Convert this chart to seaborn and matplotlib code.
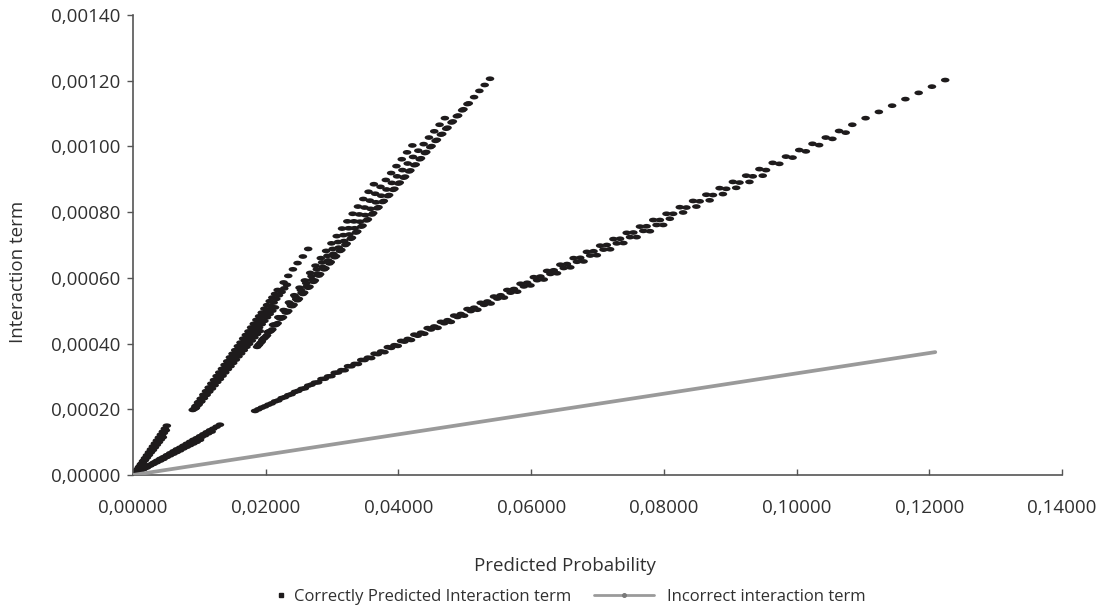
import numpy as np
import pandas as pd
import matplotlib
matplotlib.use("Agg")
import matplotlib.pyplot as plt
import seaborn as sns
from matplotlib.path import Path
import matplotlib.transforms as mtrans
from matplotlib.lines import Line2D
from matplotlib.ticker import FuncFormatter

# ---------------- data (x in 1e-3 units, y in 1e-5 units) ----------------
origin_x = [0.0]
origin_y = [0.0]

a1_x = [0.3, 0.6, 0.9, 1.2, 1.5, 1.8, 2.1, 2.4, 2.7, 3.0, 3.3, 3.6, 3.9, 4.2, 4.5, 4.8, 5.1]
a1_y = [0.6, 1.5, 2.4, 3.3, 4.2, 5.1, 6.0, 6.9, 7.8, 8.7, 9.6, 10.5, 11.4, 12.3, 13.2, 14.1, 15.0]
a2_x = [0.45, 0.75, 1.05, 1.35, 1.65, 1.95, 2.25, 2.55, 2.85, 3.15, 3.45, 3.75, 4.05, 4.35, 4.65, 4.95]
a2_y = [1.0, 1.8, 2.7, 3.5, 4.4, 5.2, 6.0, 6.9, 7.7, 8.6, 9.4, 10.2, 11.1, 11.9, 12.8, 13.6]
a3_x = [0.6, 0.9, 1.2, 1.5, 1.8, 2.1, 2.4, 2.7, 3.0, 3.3, 3.6, 3.9, 4.2, 4.5]
a3_y = [1.4, 2.2, 3.0, 3.7, 4.5, 5.3, 6.1, 6.9, 7.6, 8.4, 9.2, 10.0, 10.8, 11.5]

b1_x = [0.6, 1.1, 1.6, 2.1, 2.6, 3.1, 3.6, 4.1, 4.6, 5.1, 5.6, 6.1, 6.6, 7.1, 7.6, 8.1,
        8.6, 9.1, 9.6, 10.1, 10.6, 11.1, 11.6, 12.1, 12.6, 13.1]
b1_y = [0.8, 1.4, 2.0, 2.5, 3.1, 3.7, 4.3, 4.9, 5.4, 6.0, 6.6, 7.2, 7.8, 8.3, 8.9, 9.5,
        10.1, 10.7, 11.2, 11.8, 12.4, 13.0, 13.6, 14.1, 14.7, 15.3]
b2_x = [0.85, 1.35, 1.85, 2.35, 2.85, 3.35, 3.85, 4.35, 4.85, 5.35, 5.85, 6.35, 6.85, 7.35,
        7.85, 8.35, 8.85, 9.35, 9.85, 10.35, 10.85, 11.35, 11.85]
b2_y = [1.1, 1.7, 2.2, 2.8, 3.3, 3.9, 4.4, 5.0, 5.5, 6.1, 6.6, 7.2, 7.7, 8.3, 8.8, 9.4,
        9.9, 10.5, 11.0, 11.6, 12.1, 12.7, 13.2]
b3_x = [1.1, 1.6, 2.1, 2.6, 3.1, 3.6, 4.1, 4.6, 5.1, 5.6, 6.1, 6.6, 7.1, 7.6, 8.1, 8.6,
        9.1, 9.6, 10.1]
b3_y = [1.3, 1.8, 2.3, 2.9, 3.4, 3.9, 4.4, 4.9, 5.5, 6.0, 6.5, 7.0, 7.5, 8.1, 8.6, 9.1,
        9.6, 10.1, 10.7]

c1_x = [9.0, 9.4, 9.8, 10.2, 10.6, 11.0, 11.4, 11.8, 12.2, 12.6, 13.0, 13.4, 13.8, 14.2,
        14.6, 15.0, 15.4, 15.8, 16.2, 16.6, 17.0, 17.4, 17.8, 18.2, 18.6, 19.0, 19.4, 19.8,
        20.2, 20.6, 21.0, 21.4, 21.8, 22.7, 23.4, 24.1, 24.8, 25.6, 26.4]
c1_y = [19.8, 20.9, 22.1, 23.2, 24.4, 25.5, 26.6, 27.8, 28.9, 30.1, 31.2, 32.3, 33.5, 34.6,
        35.8, 36.9, 38.0, 39.2, 40.3, 41.5, 42.6, 43.7, 44.9, 46.0, 47.2, 48.3, 49.4, 50.6,
        51.7, 52.9, 54.0, 55.1, 56.3, 58.6, 60.6, 62.6, 64.5, 66.5, 68.8]
c2_x = [9.2, 9.6, 10.0, 10.4, 10.8, 11.2, 11.6, 12.0, 12.4, 12.8, 13.2, 13.6, 14.0, 14.4,
        14.8, 15.2, 15.6, 16.0, 16.4, 16.8, 17.2, 17.6, 18.0, 18.4, 18.8, 19.2, 19.6, 20.0,
        20.4, 20.8, 21.2, 21.6, 22.0, 22.4, 22.8, 23.2]
c2_y = [20.1, 21.2, 22.3, 23.3, 24.4, 25.5, 26.6, 27.7, 28.7, 29.8, 30.9, 32.0, 33.1, 34.1,
        35.2, 36.3, 37.4, 38.5, 39.5, 40.6, 41.7, 42.8, 43.9, 44.9, 46.0, 47.1, 48.2, 49.3,
        50.3, 51.4, 52.5, 53.6, 54.7, 55.7, 56.8, 57.9]
c3_x = [9.4, 9.8, 10.2, 10.6, 11.0, 11.4, 11.8, 12.2, 12.6, 13.0, 13.4, 13.8, 14.2, 14.6,
        15.0, 15.4, 15.8, 16.2, 16.6, 17.0, 17.4, 17.8, 18.2, 18.6, 19.0, 19.4, 19.8, 20.2,
        20.6, 21.0, 21.4]
c3_y = [20.3, 21.3, 22.3, 23.4, 24.4, 25.4, 26.4, 27.5, 28.5, 29.5, 30.5, 31.6, 32.6, 33.6,
        34.6, 35.7, 36.7, 37.7, 38.7, 39.8, 40.8, 41.8, 42.8, 43.9, 44.9, 45.9, 46.9, 48.0,
        49.0, 50.0, 51.0]
c4_x = [9.5, 9.9, 10.3, 10.7, 11.1, 11.5, 11.9, 12.3, 12.7, 13.1, 13.5, 13.9, 14.3, 14.7,
        15.1, 15.5, 15.9, 16.3, 16.7, 17.1, 17.5, 17.9, 18.3, 18.7, 19.1]
c4_y = [20.5, 21.5, 22.4, 23.4, 24.4, 25.4, 26.3, 27.3, 28.3, 29.2, 30.2, 31.2, 32.2, 33.1,
        34.1, 35.1, 36.1, 37.0, 38.0, 39.0, 39.9, 40.9, 41.9, 42.9, 43.8]

d1_x = [18.7, 19.5, 20.3, 21.1, 21.9, 22.7, 23.5, 24.3, 25.1, 25.9, 26.7, 27.5, 28.3, 29.1,
        29.9, 30.7, 31.5, 32.3, 33.1, 33.9, 34.7, 35.5, 36.3]
d1_y = [39.0, 41.2, 43.5, 45.7, 48.0, 50.2, 52.5, 54.7, 57.0, 59.2, 61.5, 63.7, 66.0, 68.2,
        70.5, 72.7, 75.0, 77.2, 79.5, 81.7, 84.0, 86.2, 88.5]
d2_x = [18.9, 19.7, 20.5, 21.3, 22.1, 22.9, 23.7, 24.5, 25.3, 26.1, 26.9, 27.7, 28.5, 29.3,
        30.1, 30.9, 31.7, 32.5, 33.3, 34.1, 34.9, 35.7, 36.5, 37.3, 38.1, 38.9, 39.7, 40.5,
        41.3, 42.1]
d2_y = [39.5, 41.6, 43.7, 45.8, 47.9, 50.0, 52.1, 54.2, 56.3, 58.4, 60.5, 62.6, 64.7, 66.7,
        68.8, 70.9, 73.0, 75.1, 77.2, 79.3, 81.4, 83.5, 85.6, 87.7, 89.8, 91.9, 94.0, 96.1,
        98.2, 100.3]
d3_x = [19.0, 19.8, 20.6, 21.4, 22.2, 23.0, 23.8, 24.6, 25.4, 26.2, 27.0, 27.8, 28.6, 29.4,
        30.2, 31.0, 31.8, 32.6, 33.4, 34.2, 35.0, 35.8, 36.6, 37.4, 38.2, 39.0, 39.8, 40.6,
        41.4, 42.2, 43.0, 43.8, 44.6, 45.4, 46.2, 47.0]
d3_y = [39.7, 41.7, 43.6, 45.6, 47.6, 49.5, 51.5, 53.5, 55.4, 57.4, 59.4, 61.3, 63.3, 65.3,
        67.3, 69.2, 71.2, 73.2, 75.1, 77.1, 79.1, 81.0, 83.0, 85.0, 86.9, 88.9, 90.9, 92.8,
        94.8, 96.8, 98.7, 100.7, 102.7, 104.6, 106.6, 108.6]
d4_x = [19.2, 20.0, 20.8, 21.6, 22.4, 23.2, 24.0, 24.8, 25.6, 26.4, 27.2, 28.0, 28.8, 29.6,
        30.4, 31.2, 32.0, 32.8, 33.6, 34.4, 35.2, 36.0, 36.8, 37.6, 38.4, 39.2, 40.0, 40.8,
        41.6, 42.4, 43.2, 44.0, 44.8, 45.6, 46.4, 47.2, 48.0, 48.8, 49.6, 50.4]
d4_y = [40.2, 42.1, 43.9, 45.8, 47.7, 49.5, 51.4, 53.2, 55.1, 57.0, 58.8, 60.7, 62.6, 64.4,
        66.3, 68.2, 70.0, 71.9, 73.8, 75.6, 77.5, 79.3, 81.2, 83.1, 84.9, 86.8, 88.7, 90.5,
        92.4, 94.3, 96.1, 98.0, 99.8, 101.7, 103.6, 105.4, 107.3, 109.2, 111.0, 112.9]
d5_x = [19.4, 20.2, 21.0, 21.8, 22.6, 23.4, 24.2, 25.0, 25.8, 26.6, 27.4, 28.2, 29.0, 29.8,
        30.6, 31.4, 32.2, 33.0, 33.8, 34.6, 35.4, 36.2, 37.0, 37.8, 38.6, 39.4, 40.2, 41.0,
        41.8, 42.6, 43.4, 44.2, 45.0, 45.8, 46.6, 47.4, 48.2, 49.0, 49.8, 50.6, 51.4, 52.2,
        53.0, 53.8]
d5_y = [40.6, 42.5, 44.3, 46.2, 48.0, 49.9, 51.8, 53.6, 55.5, 57.3, 59.2, 61.1, 62.9, 64.8,
        66.6, 68.5, 70.4, 72.2, 74.1, 75.9, 77.8, 79.7, 81.5, 83.4, 85.2, 87.1, 89.0, 90.8,
        92.7, 94.5, 96.4, 98.3, 100.1, 102.0, 103.8, 105.7, 107.6, 109.4, 111.3, 113.1, 115.0,
        116.9, 118.7, 120.6]

e1_x = [18.4, 20.4, 22.4, 24.4, 26.4, 28.4, 30.4, 32.4, 34.4, 36.4, 38.4, 40.4, 42.4, 44.4,
        46.4, 48.4, 50.4, 52.4, 54.4, 56.4, 58.4, 60.4, 62.4, 64.4, 66.4, 68.4, 70.4, 72.4,
        74.4, 76.4, 78.4, 80.4, 82.4, 84.4, 86.4, 88.4, 90.4, 92.4, 94.4, 96.4, 98.4, 100.4,
        102.4, 104.4, 106.4, 108.4, 110.4, 112.4, 114.4, 116.4, 118.4, 120.4, 122.4]
e1_y = [19.5, 21.4, 23.4, 25.3, 27.2, 29.2, 31.1, 33.1, 35.0, 36.9, 38.9, 40.8, 42.7, 44.7,
        46.6, 48.5, 50.5, 52.4, 54.3, 56.3, 58.2, 60.2, 62.1, 64.0, 66.0, 67.9, 69.8, 71.8,
        73.7, 75.6, 77.6, 79.5, 81.5, 83.4, 85.3, 87.3, 89.2, 91.1, 93.1, 95.0, 96.9, 98.9,
        100.8, 102.7, 104.7, 106.6, 108.6, 110.5, 112.4, 114.4, 116.3, 118.2, 120.2]
e2_x = [19.4, 21.4, 23.4, 25.4, 27.4, 29.4, 31.4, 33.4, 35.4, 37.4, 39.4, 41.4, 43.4, 45.4,
        47.4, 49.4, 51.4, 53.4, 55.4, 57.4, 59.4, 61.4, 63.4, 65.4, 67.4, 69.4, 71.4, 73.4,
        75.4, 77.4, 79.4, 81.4, 83.4, 85.4, 87.4, 89.4, 91.4, 93.4, 95.4, 97.4, 99.4, 101.4,
        103.4, 105.4, 107.4]
e2_y = [20.5, 22.4, 24.3, 26.2, 28.1, 30.0, 31.9, 33.8, 35.7, 37.6, 39.5, 41.4, 43.3, 45.2,
        47.1, 49.0, 50.9, 52.8, 54.7, 56.6, 58.5, 60.4, 62.3, 64.2, 66.1, 68.1, 70.0, 71.9,
        73.8, 75.7, 77.6, 79.5, 81.4, 83.3, 85.2, 87.1, 89.0, 90.9, 92.8, 94.7, 96.6, 98.5,
        100.4, 102.3, 104.2]
e3_x = [18.9, 20.9, 22.9, 24.9, 26.9, 28.9, 30.9, 32.9, 34.9, 36.9, 38.9, 40.9, 42.9, 44.9,
        46.9, 48.9, 50.9, 52.9, 54.9, 56.9, 58.9, 60.9, 62.9, 64.9, 66.9, 68.9, 70.9, 72.9,
        74.9, 76.9, 78.9, 80.9, 82.9, 84.9, 86.9, 88.9, 90.9, 92.9, 94.9]
e3_y = [20.0, 21.8, 23.7, 25.6, 27.5, 29.3, 31.2, 33.1, 35.0, 36.8, 38.7, 40.6, 42.4, 44.3,
        46.2, 48.1, 49.9, 51.8, 53.7, 55.5, 57.4, 59.3, 61.2, 63.0, 64.9, 66.8, 68.6, 70.5,
        72.4, 74.3, 76.1, 78.0, 79.9, 81.7, 83.6, 85.5, 87.4, 89.2, 91.1]
e4_x = [19.9, 21.9, 23.9, 25.9, 27.9, 29.9, 31.9, 33.9, 35.9, 37.9, 39.9, 41.9, 43.9, 45.9,
        47.9, 49.9, 51.9, 53.9, 55.9, 57.9, 59.9, 61.9, 63.9, 65.9, 67.9, 69.9, 71.9, 73.9,
        75.9, 77.9, 79.9]
e4_y = [20.9, 22.7, 24.6, 26.4, 28.2, 30.1, 31.9, 33.8, 35.6, 37.4, 39.3, 41.1, 43.0, 44.8,
        46.6, 48.5, 50.3, 52.2, 54.0, 55.8, 57.7, 59.5, 61.4, 63.2, 65.0, 66.9, 68.7, 70.6,
        72.4, 74.2, 76.1]

# Incorrect interaction term (straight grey series)
inc_x = [0.0, 20.0, 40.0, 60.0, 80.0, 100.0, 120.9]
inc_y = [0.0, 6.19, 12.37, 18.56, 24.74, 30.93, 37.4]

x_ticks = [0.0, 0.02, 0.04, 0.06, 0.08, 0.10, 0.12, 0.14]
y_ticks = [0.0, 0.0002, 0.0004, 0.0006, 0.0008, 0.0010, 0.0012, 0.0014]

label_correct = "Correctly Predicted Interaction term"
label_incorrect = "Incorrect interaction term"
x_title = "Predicted Probability"
y_title = "Interaction term"

# ---------------- build tables ----------------
strands = [(origin_x, origin_y), (a1_x, a1_y), (a2_x, a2_y), (a3_x, a3_y),
           (b1_x, b1_y), (b2_x, b2_y), (b3_x, b3_y),
           (c1_x, c1_y), (c2_x, c2_y), (c3_x, c3_y), (c4_x, c4_y),
           (d1_x, d1_y), (d2_x, d2_y), (d3_x, d3_y), (d4_x, d4_y), (d5_x, d5_y),
           (e1_x, e1_y), (e2_x, e2_y), (e3_x, e3_y), (e4_x, e4_y)]
for sx, sy in strands:
    assert len(sx) == len(sy)
correct = pd.DataFrame({
    "p": np.concatenate([np.asarray(sx) for sx, _ in strands]) / 1e3,
    "term": np.concatenate([np.asarray(sy) for _, sy in strands]) / 1e5,
})
incorrect = pd.DataFrame({"p": np.asarray(inc_x) / 1e3, "term": np.asarray(inc_y) / 1e5})

# ---------------- style ----------------
sns.set_theme(style="white")
plt.rcParams["font.family"] = ["Open Sans", "DejaVu Sans"]

fig = plt.figure(figsize=(11.15, 6.13), dpi=100)
ax = fig.add_axes([133 / 1115, 1 - 475 / 613, (1062 - 133) / 1115, (475 - 15) / 613])

dash = Path.unit_circle().transformed(mtrans.Affine2D().scale(1.0, 0.55))
black = "#1e1b1c"
grey = "#9a9a9a"
text_col = "#303030"

sns.scatterplot(data=correct, x="p", y="term", ax=ax, marker=dash, s=38,
                color=black, edgecolor="none", linewidth=0, zorder=2, legend=False)
sns.lineplot(data=incorrect, x="p", y="term", ax=ax, color=grey, linewidth=2.7,
             zorder=3, legend=False, estimator=None, sort=False)

ax.set_xlim(0, 0.14)
ax.set_ylim(0, 0.0014)
ax.set_xticks(x_ticks)
ax.set_yticks(y_ticks)
fmt = FuncFormatter(lambda v, pos: f"{v:.5f}".replace(".", ","))
ax.xaxis.set_major_formatter(fmt)
ax.yaxis.set_major_formatter(fmt)

spine_col = "#555555"
for s in ["top", "right"]:
    ax.spines[s].set_visible(False)
for s in ["left", "bottom"]:
    ax.spines[s].set_color(spine_col)
    ax.spines[s].set_linewidth(1.2)
ax.tick_params(axis="x", direction="in", length=4, width=1.0, color=spine_col,
               labelsize=13.5, labelcolor=text_col, pad=17)
ax.tick_params(axis="y", direction="out", length=4, width=1.0, color=spine_col,
               labelsize=13.5, labelcolor=text_col, pad=5)
ax.tick_params(bottom=True, left=True)

ax.set_xlabel(x_title, fontsize=13.5, color=text_col)
ax.set_ylabel(y_title, fontsize=13.5, color=text_col)
ax.xaxis.set_label_coords((565 - 133) / 929, (475 - 557) / 460)
ax.yaxis.set_label_coords((27 - 133) / 929, (475 - 272) / 460)

h1 = Line2D([], [], linestyle="none", marker="s", markersize=3.3, color=black)
h2 = Line2D([], [], color=grey, linewidth=2.0, marker="o", markersize=2.6,
            markerfacecolor="#7a7a7a", markeredgecolor="#7a7a7a")
leg1 = fig.legend([h1], [label_correct], loc="center left",
                  bbox_to_anchor=(276 / 1115, 1 - 597 / 613), frameon=False,
                  fontsize=12, handlelength=0.6, handletextpad=0.5,
                  labelcolor=text_col, borderaxespad=0, borderpad=0)
leg2 = fig.legend([h2], [label_incorrect], loc="center right",
                  bbox_to_anchor=(866 / 1115, 1 - 597 / 613), frameon=False,
                  fontsize=12, handlelength=3.6, handletextpad=0.8,
                  labelcolor=text_col, borderaxespad=0, borderpad=0)

fig.savefig("out.png", dpi=100)
